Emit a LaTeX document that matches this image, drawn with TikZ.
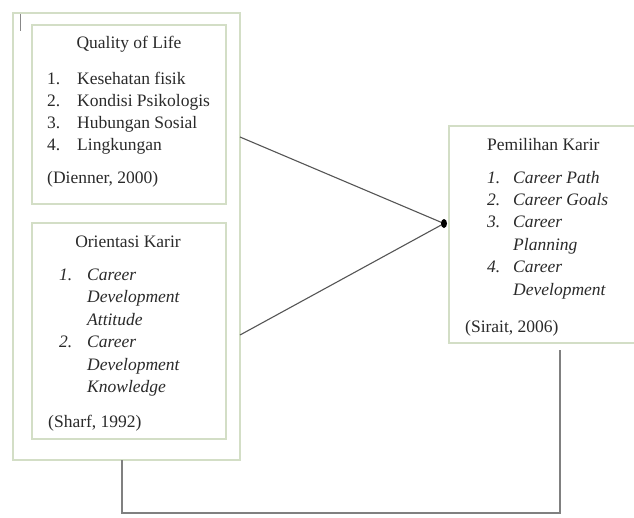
\documentclass[tikz,border=0pt]{standalone}
\usepackage{fontspec}
\setmainfont{Liberation Serif}
\begin{document}
\begin{tikzpicture}[x=1pt,y=-1pt,
  box/.style={draw=boxgreen,line width=1.3pt,rectangle,inner sep=0pt,outer sep=0pt},
  txt/.style={inner sep=0pt,anchor=base west,text=textgray,font=\fontsize{17.5}{22}\selectfont},
  ttl/.style={inner sep=0pt,anchor=base,text=textgray,font=\fontsize{17.5}{22}\selectfont},
  itx/.style={txt,font=\fontsize{17.5}{22}\selectfont\itshape},
  conn/.style={draw=linegray,line width=1.1pt}]
\definecolor{boxgreen}{HTML}{D3DEC6}
\definecolor{textgray}{HTML}{2A2A2A}
\definecolor{linegray}{HTML}{555555}
\clip (0,0) rectangle (634,517);
\fill[white] (0,0) rectangle (634,517);
% boxes
\node[box,minimum width=227pt,minimum height=447pt] (outer) at (126.5,236.5) {};
\node[box,minimum width=194pt,minimum height=179pt] (qbox) at (129,114.5) {};
\node[box,minimum width=194pt,minimum height=216pt] (obox) at (129,331) {};
\node[box,minimum width=191pt,minimum height=217pt] (pbox) at (544.5,234.5) {};
\coordinate (outerB) at (122,460);
\coordinate (rightB) at (560,350);
% cursor mark
\draw[draw=linegray!70,line width=1pt] (20,14) -- (20,31);
% QoL text
\node[ttl] (q0) at (129,48) {Quality of Life};
\node[txt] (q1n) at (47,84) {1.};
\node[txt] (q1) at (77,84) {Kesehatan fisik};
\node[txt] (q2n) at (47,106) {2.};
\node[txt] (q2) at (77,106) {Kondisi Psikologis};
\node[txt] (q3n) at (47,128) {3.};
\node[txt] (q3) at (77,128) {Hubungan Sosial};
\node[txt] (q4n) at (47,150) {4.};
\node[txt] (q4) at (77,150) {Lingkungan};
\node[txt] (qc) at (47,183) {(Dienner, 2000)};
% Orientasi text
\node[ttl] (o0) at (128,247) {Orientasi Karir};
\node[itx] (o1n) at (59,280) {1.};
\node[itx] (o1a) at (87,280) {Career};
\node[itx] (o1b) at (87,302.5) {Development};
\node[itx] (o1c) at (87,325) {Attitude};
\node[itx] (o2n) at (59,347.5) {2.};
\node[itx] (o2a) at (87,347.5) {Career};
\node[itx] (o2b) at (87,370) {Development};
\node[itx] (o2c) at (87,392.5) {Knowledge};
\node[txt] (oc) at (48,427) {(Sharf, 1992)};
% Pemilihan text
\node[txt] (p0) at (487,150) {Pemilihan Karir};
\node[itx] (p1n) at (487,183) {1.};
\node[itx] (p1) at (513,183) {Career Path};
\node[itx] (p2n) at (487,205) {2.};
\node[itx] (p2) at (513,205) {Career Goals};
\node[itx] (p3n) at (487,227.5) {3.};
\node[itx] (p3a) at (513,227.5) {Career};
\node[itx] (p3b) at (513,250) {Planning};
\node[itx] (p4n) at (487,272.5) {4.};
\node[itx] (p4a) at (513,272.5) {Career};
\node[itx] (p4b) at (513,295) {Development};
\node[txt] (pc) at (465,332) {(Sirait, 2006)};
% connectors
\coordinate (qR) at (240,137);
\coordinate (oR) at (240,335);
\coordinate (dot) at (444,223.5);
\draw[conn] (qR) -- (dot);
\draw[conn] (oR) -- (dot);
\fill[black] (dot) ellipse (3pt and 4.5pt);
\draw[conn,draw=gray] (outerB) -- (122,513) -- (560,513) -- (rightB);
\end{tikzpicture}
\end{document}
